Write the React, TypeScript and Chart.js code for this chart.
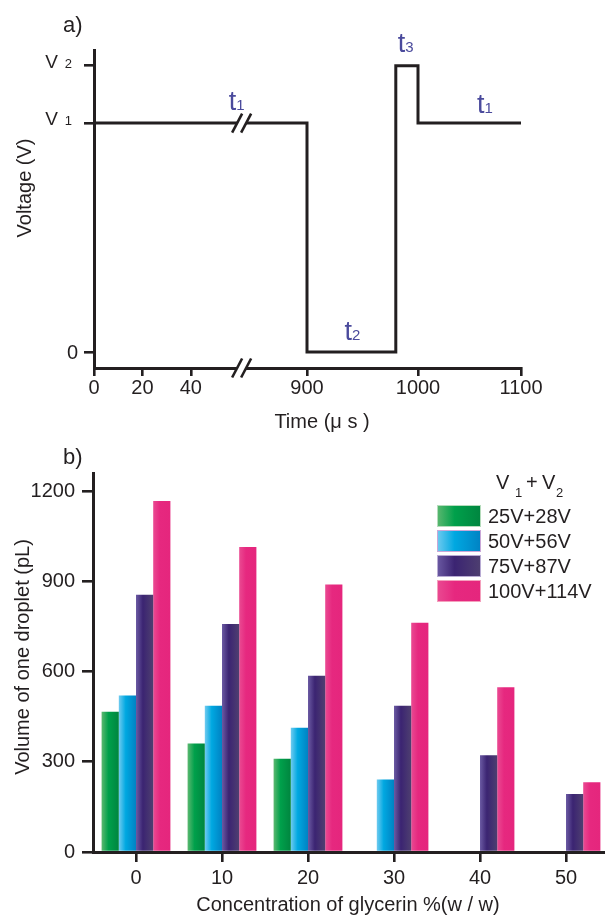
import React, { useEffect, useRef } from 'react';
import { Chart, registerables, LinearScale } from 'chart.js';

const FONT = "'Liberation Sans', Arial, Helvetica, sans-serif";
const INK = '#231f20';
const NOTE = '#4a4a9c';

// ---------- Panel a : driving waveform (schematic units, V1 = 1, V2 = 1.25) ----------
const waveTime = [0, 900, 900, 980, 980, 1000, 1000, 1100];
const waveVoltage = [1, 1, 0, 0, 1.25, 1.25, 1, 1];
const timeTicks = [0, 20, 40, 900, 1000, 1100];
const voltageTicks = [0, 1, 1.25];
const voltageTickMain = ['0', 'V', 'V'];
const voltageTickSub = ['', '1', '2'];
const breakTime = 61;
const phaseMain = ['t', 't', 't', 't'];
const phaseSub = ['1', '2', '3', '1'];
const phaseTime = [59, 941, 989, 1065];
const phaseVolt = [1.057, 0.052, 1.31, 1.044];

// ---------- Panel b : droplet volume ----------
const categories = ['0', '10', '20', '30', '40', '50'];
const seriesLabels = ['25V+28V', '50V+56V', '75V+87V', '100V+114V'];
const vol25 = [466, 361, 310, null, null, null];
const vol50 = [520, 486, 413, 241, null, null];
const vol75 = [855, 758, 586, 486, 322, 193];
const vol100 = [1167, 1014, 889, 762, 548, 232];
const volumeTicks = [0, 300, 600, 900, 1200];

const series = [vol25, vol50, vol75, vol100];
const barStops = [
  ['#5cb870', '#00a04b', '#00853f'],
  ['#70cbf0', '#00a8e1', '#0082c3'],
  ['#6b5aa3', '#3b2472', '#4e3f70'],
  ['#ea4a92', '#e6287f', '#e5267d'],
];
const boxBorders = ['#b5dcbc', '#c9a8d8', '#b9acd4', '#f4a0bd'];

// broken time axis: 0..40 stretched, 900..1100 compressed
function axisMap(t: number): number {
  if (t <= 450) return t * 2.42;
  if (t <= 1000) return 213 + (t - 900) * 1.11;
  return 324 + (t - 1000) * 1.03;
}

class BrokenTimeScale extends LinearScale {
  static id = 'brokenTime';
  static defaults = {};
  getPixelForValue(value: number) {
    const lo = axisMap(this.min as number);
    const hi = axisMap(this.max as number);
    return this.getPixelForDecimal((axisMap(value) - lo) / (hi - lo));
  }
}

Chart.register(...registerables, BrokenTimeScale as any);

function drawBreak(ctx: CanvasRenderingContext2D, cx: number, cy: number) {
  const dx = 5, dy = 9.5, gap = 4.5;
  ctx.fillStyle = '#ffffff';
  ctx.beginPath();
  ctx.moveTo(cx - gap - dx, cy + dy);
  ctx.lineTo(cx - gap + dx, cy - dy);
  ctx.lineTo(cx + gap + dx, cy - dy);
  ctx.lineTo(cx + gap - dx, cy + dy);
  ctx.closePath();
  ctx.fill();
  ctx.strokeStyle = INK;
  ctx.lineWidth = 2.6;
  [-gap, gap].forEach((s) => {
    ctx.beginPath();
    ctx.moveTo(cx + s - dx, cy + dy);
    ctx.lineTo(cx + s + dx, cy - dy);
    ctx.stroke();
  });
}

function subText(ctx: CanvasRenderingContext2D, main: string, sub: string, cx: number, base: number, mainSize: number, subSize: number, color: string) {
  ctx.save();
  ctx.fillStyle = color;
  ctx.textAlign = 'left';
  ctx.textBaseline = 'alphabetic';
  ctx.font = `${mainSize}px ${FONT}`;
  const wm = ctx.measureText(main).width;
  ctx.font = `${subSize}px ${FONT}`;
  const ws = ctx.measureText(sub).width;
  const x0 = cx - (wm + ws) / 2;
  ctx.font = `${mainSize}px ${FONT}`;
  ctx.fillText(main, x0, base);
  ctx.font = `${subSize}px ${FONT}`;
  ctx.fillText(sub, x0 + wm, base);
  ctx.restore();
}

const panelAPlugin = {
  id: 'panelA',
  afterDraw(chart: any) {
    const { ctx, chartArea } = chart;
    const x = chart.scales.x;
    const y = chart.scales.y;
    ctx.save();
    const bx = x.getPixelForValue(breakTime);
    drawBreak(ctx, bx, y.getPixelForValue(1));
    drawBreak(ctx, bx, chartArea.bottom);

    // voltage tick labels
    ctx.fillStyle = INK;
    voltageTicks.forEach((v, i) => {
      const py = y.getPixelForValue(v);
      if (!voltageTickSub[i]) {
        ctx.font = `20px ${FONT}`;
        ctx.textAlign = 'right';
        ctx.textBaseline = 'middle';
        ctx.fillText(voltageTickMain[i], chartArea.left - 16, py + 2);
      } else {
        ctx.textBaseline = 'alphabetic';
        ctx.textAlign = 'right';
        ctx.font = `13px ${FONT}`;
        ctx.fillText(voltageTickSub[i], chartArea.left - 22, py + 2);
        ctx.font = `19px ${FONT}`;
        ctx.fillText(voltageTickMain[i], chartArea.left - 36, py + 2);
      }
    });

    // phase annotations
    phaseMain.forEach((m, i) => {
      subText(ctx, m, phaseSub[i], x.getPixelForValue(phaseTime[i]), y.getPixelForValue(phaseVolt[i]), 27, 15, NOTE);
    });

    // titles
    ctx.fillStyle = INK;
    ctx.textBaseline = 'alphabetic';
    ctx.textAlign = 'left';
    ctx.font = `22px ${FONT}`;
    ctx.fillText('a)', 63, 32);

    ctx.font = `20px ${FONT}`;
    ctx.textAlign = 'center';
    ctx.textBaseline = 'middle';
    ctx.fillText('Time (\u03bc s )', 322, 422);

    ctx.save();
    ctx.translate(25, 188);
    ctx.rotate(-Math.PI / 2);
    ctx.fillText('Voltage (V)', 0, 0);
    ctx.restore();
    ctx.restore();
  },
};

function gradFill(c: any, i: number) {
  const stops = barStops[i];
  const chart = c.chart;
  const xs = chart.scales && chart.scales.x;
  if (!xs || c.type !== 'data' || !(xs.right > xs.left)) return stops[1];
  const n = categories.length;
  const catW = (xs.right - xs.left) / n;
  const center = xs.getPixelForValue(c.dataIndex);
  const bw = (catW * 0.8) / series.length;
  const left = center - catW * 0.4 + c.datasetIndex * bw;
  const g = chart.ctx.createLinearGradient(left, 0, left + bw, 0);
  g.addColorStop(0, stops[0]);
  g.addColorStop(0.4, stops[1]);
  g.addColorStop(1, stops[2]);
  return g;
}

const panelBPlugin = {
  id: 'panelB',
  afterDraw(chart: any) {
    const { ctx } = chart;
    ctx.save();
    ctx.fillStyle = INK;
    ctx.textAlign = 'left';
    ctx.textBaseline = 'alphabetic';
    ctx.font = `22px ${FONT}`;
    ctx.fillText('b)', 63, 24);

    ctx.font = `20px ${FONT}`;
    ctx.textAlign = 'center';
    ctx.textBaseline = 'middle';
    ctx.fillText('Concentration of glycerin %(w / w)', 348, 465);
    ctx.save();
    ctx.translate(23, 217);
    ctx.rotate(-Math.PI / 2);
    ctx.fillText('Volume of one droplet (pL)', 0, 0);
    ctx.restore();

    // legend title V1 + V2
    ctx.textAlign = 'left';
    ctx.textBaseline = 'alphabetic';
    ctx.font = `20px ${FONT}`;
    ctx.fillText('V', 496, 49);
    ctx.fillText('+', 526, 49);
    ctx.fillText('V', 542, 49);
    ctx.font = `13px ${FONT}`;
    ctx.fillText('1', 515, 57);
    ctx.fillText('2', 556, 57);

    // legend boxes
    seriesLabels.forEach((lab, i) => {
      const top = 65 + i * 25;
      const bx = 437, bw = 44, bh = 22;
      const g = ctx.createLinearGradient(bx, 0, bx + bw, 0);
      g.addColorStop(0, barStops[i][0]);
      g.addColorStop(0.4, barStops[i][1]);
      g.addColorStop(1, barStops[i][2]);
      ctx.fillStyle = g;
      ctx.fillRect(bx, top, bw, bh);
      ctx.strokeStyle = boxBorders[i];
      ctx.lineWidth = 1;
      ctx.strokeRect(bx + 0.5, top + 0.5, bw - 1, bh - 1);
      ctx.fillStyle = INK;
      ctx.font = `20px ${FONT}`;
      ctx.textBaseline = 'middle';
      ctx.fillText(lab, 488, top + bh / 2 + 1);
    });
    ctx.restore();
  },
};

export default function App() {
  const topRef = useRef<HTMLCanvasElement>(null);
  const botRef = useRef<HTMLCanvasElement>(null);

  useEffect(() => {
    document.body.style.margin = '0';
    const axisLine = { display: true, color: INK, width: 3 };
    const tickGrid = (len: number) => ({
      display: true,
      drawOnChartArea: false,
      drawTicks: true,
      tickLength: len,
      color: INK,
      lineWidth: 2.6,
      tickWidth: 2.6,
    });

    const a = new Chart(topRef.current as HTMLCanvasElement, {
      type: 'line',
      data: {
        datasets: [
          {
            data: waveTime.map((t, i) => ({ x: t, y: waveVoltage[i] })),
            borderColor: INK,
            borderWidth: 3,
            pointRadius: 0,
            fill: false,
            tension: 0,
            borderJoinStyle: 'miter',
            borderCapStyle: 'butt',
          },
        ],
      },
      options: {
        responsive: false,
        animation: false,
        events: [],
        layout: { padding: { top: 50, right: 84, left: 0, bottom: 0 } },
        plugins: { legend: { display: false }, tooltip: { enabled: false } },
        scales: {
          x: {
            type: 'brokenTime' as any,
            min: 0,
            max: 1100,
            afterBuildTicks: (s: any) => {
              s.ticks = timeTicks.map((v) => ({ value: v }));
            },
            afterFit: (s: any) => {
              s.height = 72;
            },
            border: axisLine,
            grid: tickGrid(8),
            ticks: {
              autoSkip: false,
              maxRotation: 0,
              padding: 0,
              color: INK,
              font: { family: FONT, size: 20 },
              callback: (_v: any, i: number) => String(timeTicks[i]),
            },
          },
          y: {
            type: 'linear',
            min: -0.07,
            max: 1.319,
            afterBuildTicks: (s: any) => {
              s.ticks = voltageTicks.map((v) => ({ value: v }));
            },
            afterFit: (s: any) => {
              s.width = 94;
            },
            border: axisLine,
            grid: tickGrid(10),
            ticks: { display: false },
          },
        },
      } as any,
      plugins: [panelAPlugin],
    });

    const b = new Chart(botRef.current as HTMLCanvasElement, {
      type: 'bar',
      data: {
        labels: categories,
        datasets: series.map((vals, i) => ({
          label: seriesLabels[i],
          data: vals,
          backgroundColor: (c: any) => gradFill(c, i),
          borderWidth: 0,
          categoryPercentage: 0.8,
          barPercentage: 1.0,
        })),
      },
      options: {
        responsive: false,
        animation: false,
        events: [],
        layout: { padding: { top: 33, right: 1, left: 0, bottom: 0 } },
        plugins: { legend: { display: false }, tooltip: { enabled: false } },
        scales: {
          x: {
            type: 'category',
            offset: true,
            afterFit: (s: any) => {
              s.height = 63;
            },
            border: axisLine,
            grid: { ...tickGrid(10), offset: false },
            ticks: {
              autoSkip: false,
              maxRotation: 0,
              padding: 4,
              color: INK,
              font: { family: FONT, size: 20 },
            },
          },
          y: {
            type: 'linear',
            min: 0,
            max: 1260,
            afterBuildTicks: (s: any) => {
              s.ticks = volumeTicks.map((v) => ({ value: v }));
            },
            afterFit: (s: any) => {
              s.width = 93;
            },
            border: axisLine,
            grid: tickGrid(11),
            ticks: {
              padding: 7,
              color: INK,
              font: { family: FONT, size: 20 },
              callback: (v: any) => String(v),
            },
          },
        },
      } as any,
      plugins: [panelBPlugin],
    });

    return () => {
      a.destroy();
      b.destroy();
    };
  }, []);

  return (
    <div style={{ position: 'relative', width: 605, height: 915, overflow: 'hidden', background: '#ffffff' }}>
      <canvas ref={topRef} width={605} height={440} style={{ position: 'absolute', left: 0, top: 0 }} />
      <canvas ref={botRef} width={610} height={475} style={{ position: 'absolute', left: 0, top: 440 }} />
    </div>
  );
}
